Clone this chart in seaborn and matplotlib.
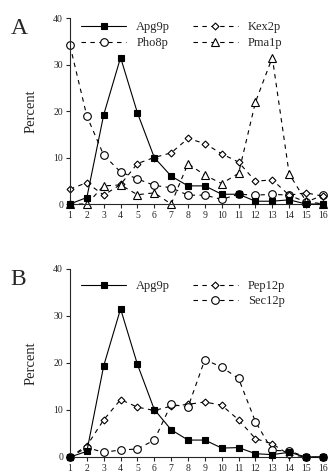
import matplotlib
matplotlib.use("Agg")
import matplotlib.pyplot as plt
import seaborn as sns
from matplotlib.lines import Line2D

fractions = list(range(1, 17))

# panel A
apg9_a = [0, 1.4, 19.2, 31.5, 19.6, 10.0, 6.0, 3.9, 3.9, 2.1, 2.1, 0.6, 0.6, 0.9, 0, 0]
pho8 = [34.1, 18.9, 10.5, 6.9, 5.4, 4.0, 3.5, 1.9, 1.9, 1.0, 2.1, 1.9, 2.1, 1.9, 0.4, 1.9]
kex2 = [3.2, 4.6, 1.9, 4.2, 8.7, 10.0, 11.0, 14.1, 13.0, 10.8, 9.0, 4.9, 5.2, 1.9, 2.4, 1.7]
pma1 = [0, 0, 3.9, 4.1, 2.0, 2.4, 0, 8.7, 6.2, 4.4, 6.6, 21.9, 31.5, 6.5, 0.6, 0]

# panel B
apg9_b = [0, 1.2, 19.4, 31.5, 19.7, 10.1, 5.8, 3.6, 3.6, 1.9, 2.0, 0.7, 0.5, 1.0, 0, 0]
pep12 = [0, 2.4, 7.9, 12.2, 10.6, 9.9, 10.8, 11.2, 11.7, 11.0, 7.9, 3.9, 2.8, 0.5, 0, 0]
sec12 = [0, 2.0, 1.0, 1.5, 1.7, 3.6, 11.2, 10.6, 20.7, 19.1, 16.7, 7.5, 1.4, 1.3, 0, 0]

sns.set_style("ticks")
plt.rcParams["font.family"] = ["Liberation Serif", "DejaVu Serif"]

fig = plt.figure(figsize=(3.28, 4.75), dpi=100)
ax_a = fig.add_axes([0.2134, 0.5705, 0.771, 0.3916])
ax_b = fig.add_axes([0.2134, 0.0379, 0.771, 0.396])

dash = (0, (4, 4))


def draw(ax, y, marker, ms, solid, face, label):
    sns.lineplot(x=fractions, y=y, ax=ax, color="black", lw=0.8,
                 linestyle="-" if solid else dash, marker=marker, ms=ms,
                 markerfacecolor=face, markeredgecolor="black", markeredgewidth=0.8,
                 clip_on=False, label=label, zorder=3 if solid else 2)


draw(ax_a, apg9_a, "s", 5, True, "black", "Apg9p")
draw(ax_a, pho8, "o", 5.5, False, "white", "Pho8p")
draw(ax_a, kex2, "D", 3.5, False, "white", "Kex2p")
draw(ax_a, pma1, "^", 5.5, False, "white", "Pma1p")

draw(ax_b, apg9_b, "s", 5, True, "black", "Apg9p")
draw(ax_b, pep12, "D", 3.5, False, "white", "Pep12p")
draw(ax_b, sec12, "o", 5.5, False, "white", "Sec12p")

for ax, letter in [(ax_a, "A"), (ax_b, "B")]:
    ax.set_xlim(1, 16)
    ax.set_ylim(0, 40)
    ax.set_xticks(fractions)
    ax.set_yticks([0, 10, 20, 30, 40])
    ax.tick_params(axis="both", labelsize=7, length=3, width=0.8, pad=2)
    ax.set_ylabel("Percent", fontsize=10.5, labelpad=11)
    ax.set_xlabel("")
    sns.despine(ax=ax)
    for s in ["left", "bottom"]:
        ax.spines[s].set_linewidth(0.8)
    ax.text(-0.235, 1.0, letter, transform=ax.transAxes, fontsize=17, va="top", ha="left")

h, l = ax_a.get_legend_handles_labels()
ax_a.legend(h, l, ncol=2, frameon=False,
            loc="upper left", bbox_to_anchor=(0.0, 1.045), fontsize=9,
            handlelength=3.6, columnspacing=1.8, labelspacing=0.35, handletextpad=0.8)

h, l = ax_b.get_legend_handles_labels()
blank = Line2D([], [], color="none")
ax_b.legend([h[0], blank, h[1], h[2]], [l[0], "", l[1], l[2]], ncol=2, frameon=False,
            loc="upper left", bbox_to_anchor=(0.0, 1.0), fontsize=9,
            handlelength=3.6, columnspacing=1.8, labelspacing=0.25, handletextpad=0.8)

fig.savefig("out.png", dpi=100)
